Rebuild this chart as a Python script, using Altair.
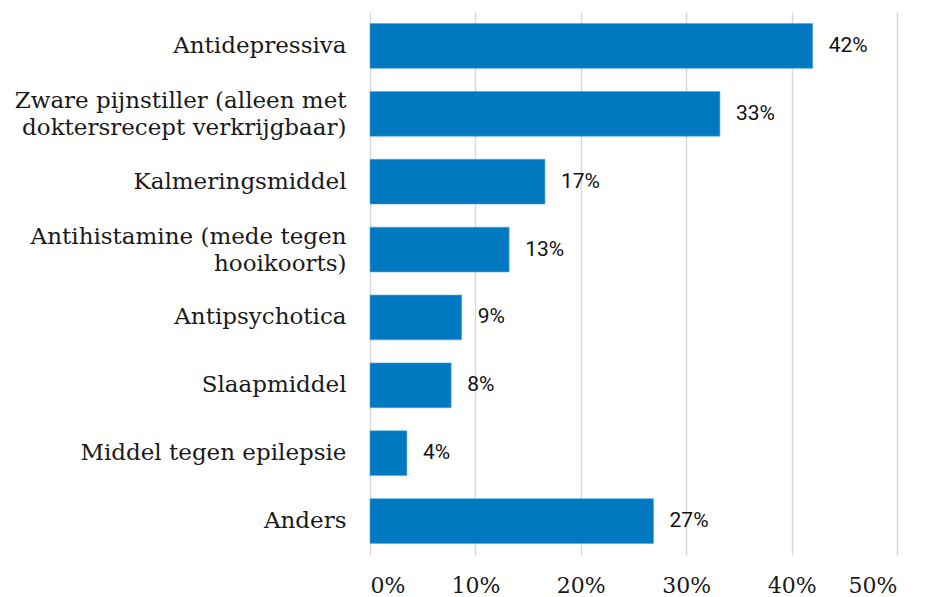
import altair as alt
import pandas as pd

categories = [
    "Antidepressiva",
    "Zware pijnstiller (alleen met|doktersrecept verkrijgbaar)",
    "Kalmeringsmiddel",
    "Antihistamine (mede tegen|hooikoorts)",
    "Antipsychotica",
    "Slaapmiddel",
    "Middel tegen epilepsie",
    "Anders",
]
values = [42.0, 33.2, 16.6, 13.2, 8.7, 7.7, 3.5, 26.9]
labels = ["42%", "33%", "17%", "13%", "9%", "8%", "4%", "27%"]
x_ticks = [0, 10, 20, 30, 40, 50]

df = pd.DataFrame({"cat": categories, "val": values, "lab": labels})

SERIF = "DejaVu Serif"

y_enc = alt.Y(
    "cat:N",
    sort=categories,
    scale=alt.Scale(paddingInner=0.34, paddingOuter=0.17),
    axis=alt.Axis(
        title=None,
        labelExpr="split(datum.label, '|')",
        labelFont=SERIF,
        labelFontSize=23,
        labelColor="#1a1a1a",
        labelLineHeight=27,
        labelPadding=24,
        labelLimit=400,
        labelOffset={
            "condition": {"test": "indexof(datum.label, '|') >= 0", "value": -13},
            "value": 0,
        },
        ticks=False,
        domain=False,
        grid=False,
        minExtent=362,
        maxExtent=362,
    ),
)

x_enc = alt.X(
    "val:Q",
    scale=alt.Scale(domain=[0, 50], nice=False),
    axis=alt.Axis(
        title=None,
        values=x_ticks,
        labelExpr="datum.value + '%'",
        labelFont=SERIF,
        labelFontSize=22,
        labelColor="#1a1a1a",
        labelPadding=20,
        ticks=False,
        domain=False,
        grid=True,
        gridColor="#d9d9d9",
        gridWidth=1.5,
    ),
)

bars = alt.Chart(df).mark_bar(color="#0079c1", stroke="#5aa7d8", strokeWidth=0.6).encode(
    x=x_enc, y=y_enc
)

text = alt.Chart(df).mark_text(
    align="left", baseline="middle", dx=16, font="Roboto", fontSize=21, color="#111111"
).encode(x="val:Q", y=alt.Y("cat:N", sort=categories), text="lab:N")

chart = (
    (bars + text)
    .properties(
        width=527,
        height=543,
        background="white",
        padding={"left": 0, "top": 4, "right": 5, "bottom": 5},
    )
    .configure_view(stroke=None)
)

chart.save("out.html", embed_options={"renderer": "svg", "actions": False})
